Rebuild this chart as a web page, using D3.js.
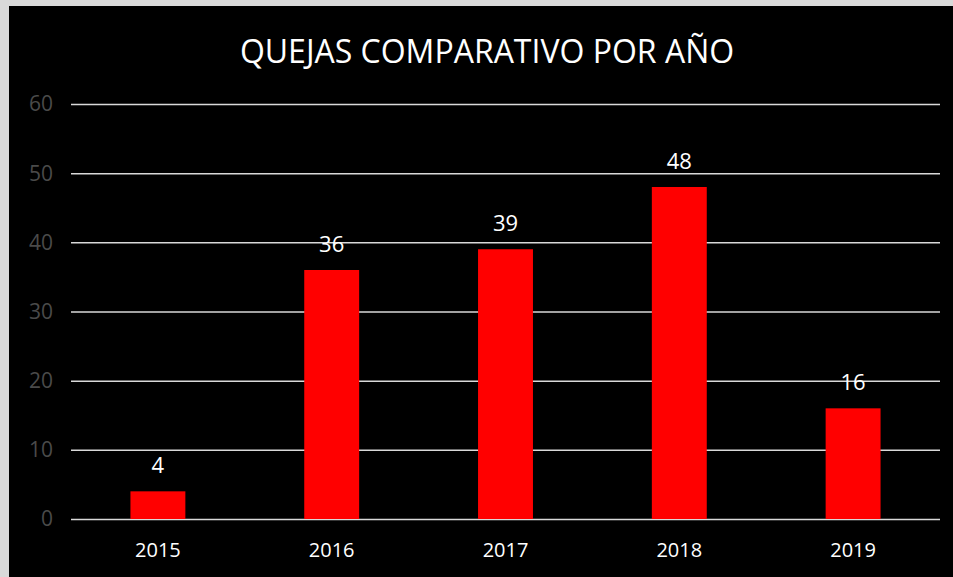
<!DOCTYPE html>
<html>
<head>
<meta charset="utf-8">
<script src="https://cdn.jsdelivr.net/npm/d3@7"></script>
<style>
  body { margin: 0; background: #d9d9d9; }
  svg text { font-family: "Open Sans", "Liberation Sans", sans-serif; }
</style>
</head>
<body>
<svg class="chart" width="953" height="577"></svg>
<script>
// data
const years = ['2015', '2016', '2017', '2018', '2019'];
const quejas = [4, 36, 39, 48, 16];
const yTicks = [0, 10, 20, 30, 40, 50, 60];
const title = 'QUEJAS COMPARATIVO POR AÑO';

const width = 953, height = 577;
const margin = { top: 104, bottom: 58, left: 71, right: 13 };

const svg = d3.select('.chart');

svg.append('rect')
    .attr('x', 9).attr('y', 6)
    .attr('width', width - 9).attr('height', height - 6)
    .attr('fill', '#000');

const xscale = d3.scaleBand()
    .domain(years)
    .range([margin.left, width - margin.right])
    .paddingInner(0.684)
    .paddingOuter(0.342);

const yscale = d3.scaleLinear()
    .domain([0, 60])
    .range([height - margin.bottom, margin.top]);

// gridlines
const grid = svg.append('g')
    .attr('transform', `translate(${margin.left},0)`)
    .call(d3.axisLeft(yscale).tickValues(yTicks)
        .tickSize(-(width - margin.left - margin.right))
        .tickFormat(''));
grid.select('.domain').remove();
grid.selectAll('line').attr('stroke', '#d9d9d9').attr('stroke-width', 1.5);

// y labels
svg.append('g').selectAll('text')
    .data(yTicks)
    .join('text')
    .attr('x', 53)
    .attr('y', d => yscale(d))
    .attr('dy', '0.35em')
    .attr('text-anchor', 'end')
    .attr('fill', '#4a4a4a')
    .style('font-size', '21px')
    .text(d => d);

// bars
svg.append('g').selectAll('rect')
    .data(quejas)
    .join('rect')
    .attr('x', (d, i) => xscale(years[i]))
    .attr('y', d => yscale(d))
    .attr('width', xscale.bandwidth())
    .attr('height', d => yscale(0) - yscale(d))
    .attr('fill', '#ff0000');

// value labels
svg.append('g').selectAll('text')
    .data(quejas)
    .join('text')
    .attr('x', (d, i) => xscale(years[i]) + xscale.bandwidth() / 2)
    .attr('y', d => yscale(d) - 18)
    .attr('text-anchor', 'middle')
    .attr('fill', '#fff')
    .style('font-size', '22px')
    .text(d => d);

// x labels
svg.append('g').selectAll('text')
    .data(years)
    .join('text')
    .attr('x', d => xscale(d) + xscale.bandwidth() / 2)
    .attr('y', height - margin.bottom + 31)
    .attr('dy', '0.35em')
    .attr('text-anchor', 'middle')
    .attr('fill', '#fff')
    .style('font-size', '20px')
    .text(d => d);

svg.append('text')
    .attr('x', 487)
    .attr('y', 63)
    .attr('text-anchor', 'middle')
    .attr('fill', '#fff')
    .style('font-size', '32px')
    .text(title);
</script>
</body>
</html>
